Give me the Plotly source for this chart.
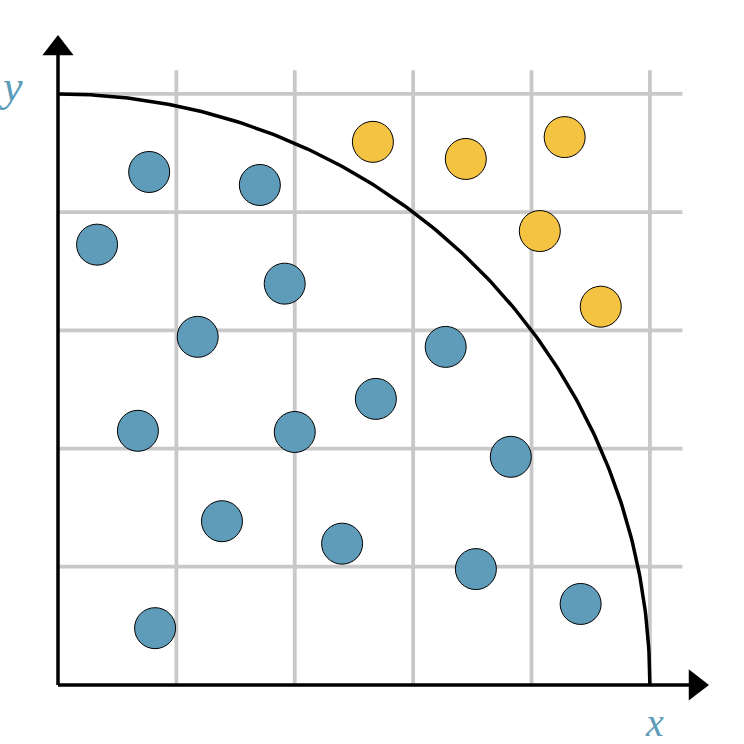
import numpy as np
import plotly.graph_objects as go

# Data
inside_x = [0.154, 0.341, 0.066, 0.383, 0.236, 0.655, 0.537, 0.135, 0.400, 0.765, 0.277, 0.480, 0.706, 0.883, 0.164]
inside_y = [0.868, 0.846, 0.745, 0.679, 0.589, 0.572, 0.484, 0.430, 0.428, 0.386, 0.277, 0.239, 0.196, 0.137, 0.096]
outside_x = [0.532, 0.689, 0.856, 0.814, 0.917]
outside_y = [0.919, 0.890, 0.927, 0.768, 0.640]
grid_ticks = [0.2, 0.4, 0.6, 0.8, 1.0]
grid_top = 1.04
grid_right = 1.055
arrow_pos = 1.077

BLUE = "#5E9CBA"
YELLOW = "#F5C342"
GRID = "#C8C8C8"

fig = go.Figure()

# grid lines
gx, gy = [], []
for t in grid_ticks:
    gx += [t, t, None]
    gy += [0, grid_top, None]
    gx += [0, grid_right, None]
    gy += [t, t, None]
fig.add_trace(go.Scatter(x=gx, y=gy, mode="lines", line=dict(color=GRID, width=3.8),
                         hoverinfo="skip", showlegend=False))

# quarter circle
theta = np.linspace(0, np.pi / 2, 200)
fig.add_trace(go.Scatter(x=np.cos(theta), y=np.sin(theta), mode="lines",
                         line=dict(color="black", width=3.5), hoverinfo="skip", showlegend=False))

# points
fig.add_trace(go.Scatter(x=inside_x, y=inside_y, mode="markers",
                         marker=dict(size=41, color=BLUE, line=dict(color="black", width=1)),
                         showlegend=False))
fig.add_trace(go.Scatter(x=outside_x, y=outside_y, mode="markers",
                         marker=dict(size=41, color=YELLOW, line=dict(color="black", width=1)),
                         showlegend=False))

# axes lines
fig.add_trace(go.Scatter(x=[0, arrow_pos, None, 0, 0], y=[0, 0, None, 0, arrow_pos],
                         mode="lines", line=dict(color="black", width=3.5),
                         hoverinfo="skip", showlegend=False))
# arrow heads
fig.add_trace(go.Scatter(x=[arrow_pos], y=[0], mode="markers",
                         marker=dict(symbol="triangle-right", size=27, color="black", line=dict(width=0)),
                         hoverinfo="skip", showlegend=False))
fig.add_trace(go.Scatter(x=[0], y=[arrow_pos], mode="markers",
                         marker=dict(symbol="triangle-up", size=27, color="black", line=dict(width=0)),
                         hoverinfo="skip", showlegend=False))

fig.add_annotation(x=1.008, y=-0.064, text="<i>x</i>", showarrow=False,
                   font=dict(family="Liberation Serif", size=40, color=BLUE))
fig.add_annotation(x=-0.080, y=1.012, text="<i>y</i>", showarrow=False,
                   font=dict(family="Liberation Serif", size=44, color=BLUE))

fig.update_layout(
    width=744, height=744,
    margin=dict(l=0, r=0, t=0, b=0),
    paper_bgcolor="white", plot_bgcolor="white",
    xaxis=dict(range=[-0.098, 1.159], visible=False, fixedrange=True),
    yaxis=dict(range=[-0.1, 1.159], visible=False, fixedrange=True),
)

fig.write_html("out.html", config={"displayModeBar": False},
               post_script="document.body.style.margin='0px';")
